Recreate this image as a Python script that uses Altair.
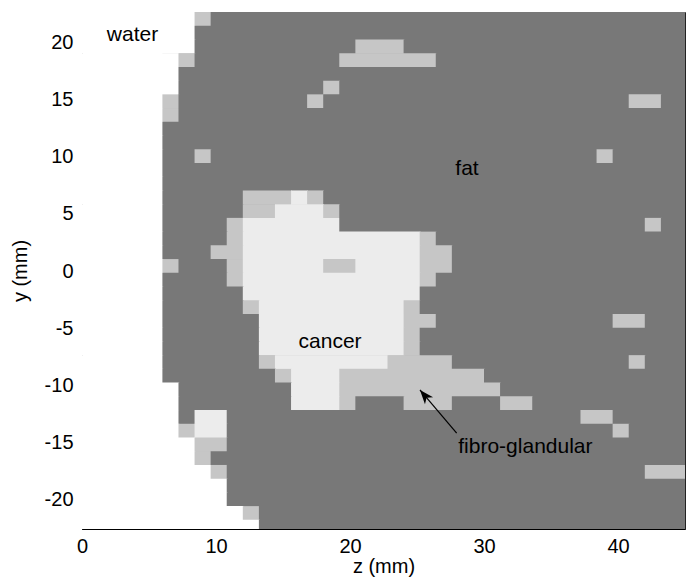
import altair as alt
import pandas as pd

# ---- grid geometry (mm) ----
CELL = 1.2          # pixel size of the tissue map, mm
OVERLAP = 0.06      # tiny overlap between neighbouring cells to hide render seams
Y_TOP = 22.65       # upper edge of the first row
Z_DOMAIN = [0, 45]
Y_DOMAIN = [-22.55, 22.65]

# ---- tissue classes ----
tissue_codes = ["W", "F", "G", "C"]
tissue_names = ["water", "fat", "fibro-glandular", "cancer"]
tissue_colors = ["#ffffff", "#787878", "#c6c6c6", "#ececec"]

# ---- tissue map, run-length encoded, top row first (38 cells per row) ----
row_runs = [
    "W7 G1 F30",
    "W7 F31",
    "W7 F10 G3 F18",
    "W6 G1 F9 G6 F16",
    "W6 F32",
    "W6 F9 G1 F22",
    "W5 G1 F8 G1 F19 G2 F2",
    "W5 G1 F32",
    "W5 F33",
    "W5 F33",
    "W5 F2 G1 F24 G1 F5",
    "W5 F33",
    "W5 F33",
    "W5 F5 G3 C1 G1 F23",
    "W5 F5 G2 C3 G1 F22",
    "W5 F4 G1 C6 F19 G1 F2",
    "W5 F4 G1 C11 G1 F16",
    "W5 F3 G2 C11 G2 F15",
    "W5 G1 F3 G1 C5 G2 C4 G2 F15",
    "W5 F4 G1 C11 G1 F16",
    "W5 F5 C11 F17",
    "W5 F5 G1 C9 G1 F17",
    "W5 F6 C9 G2 F11 G2 F3",
    "W5 F6 C9 G1 F17",
    "W5 F6 C9 G1 F17",
    "W5 F6 G1 C7 G4 F11 G1 F3",
    "W5 F7 G1 C3 G9 F13",
    "W6 F7 C3 G10 F12",
    "W6 F7 C3 G1 F3 G3 F3 G2 F10",
    "W6 F1 C2 F22 G2 F5",
    "W6 G1 C2 F24 G1 F4",
    "W7 G2 F29",
    "W7 G1 F30",
    "W8 G1 F26 G3",
    "W9 F29",
    "W9 F29",
    "W10 G1 F27",
    "W11 F27",
]

# ---- annotations ----
label_texts = ["water", "fat", "cancer", "fibro-glandular"]
label_z = [1.85, 28.73, 18.51, 28.08]
label_y = [20.1, 8.38, -6.75, -15.92]
label_align = ["left", "center", "center", "left"]
arrow_tail = (27.96, -14.17)
arrow_tip = (25.22, -10.39)

x_ticks = [0, 10, 20, 30, 40]
y_ticks = [-20, -15, -10, -5, 0, 5, 10, 15, 20]

# ---- build cell table ----
name_of = dict(zip(tissue_codes, tissue_names))
records = []
for r, row in enumerate(row_runs):
    c = 0
    for tok in row.split():
        code, n = tok[0], int(tok[1:])
        records.append({
            "z0": c * CELL, "z1": (c + n) * CELL + OVERLAP,
            "y1": Y_TOP - r * CELL, "y0": Y_TOP - (r + 1) * CELL - OVERLAP,
            "tissue": name_of[code],
        })
        c += n
cells = pd.DataFrame(records)

xscale = alt.Scale(domain=Z_DOMAIN, nice=False, zero=False)
yscale = alt.Scale(domain=Y_DOMAIN, nice=False, zero=False)
color_scale = alt.Scale(domain=tissue_names, range=tissue_colors)

FONT = "Liberation Sans"

# background of the map region (fat colour) to hide seams between rows
bg_df = pd.DataFrame({"z0": [6.0], "z1": [Z_DOMAIN[1]],
                      "y0": [Y_DOMAIN[0]], "y1": [Y_DOMAIN[1]]})
background = alt.Chart(bg_df).mark_rect(color=tissue_colors[1], clip=True).encode(
    x=alt.X("z0:Q", scale=xscale, axis=alt.Axis(
        title="z (mm)", values=x_ticks, ticks=False, grid=False, labelFlush=False,
        labelPadding=7, titlePadding=0, labelExpr="'' + datum.value")),
    x2="z1:Q",
    y=alt.Y("y1:Q", scale=yscale, axis=alt.Axis(
        title="y (mm)", values=y_ticks, ticks=False, grid=False, labelFlush=False,
        labelPadding=9, titlePadding=14, labelExpr="'' + datum.value")),
    y2="y0:Q",
)

base_map = alt.Chart(cells).mark_rect(clip=True, strokeWidth=0).encode(
    x=alt.X("z0:Q", scale=xscale),
    x2="z1:Q",
    y=alt.Y("y1:Q", scale=yscale),
    y2="y0:Q",
    color=alt.Color("tissue:N", scale=color_scale, legend=None),
)

labels = pd.DataFrame({"text": label_texts, "z": label_z, "y": label_y,
                       "align": label_align})
text_left = alt.Chart(labels[labels["align"] == "left"]).mark_text(
    align="left", baseline="alphabetic", font=FONT, fontSize=21, color="black"
).encode(x=alt.X("z:Q", scale=xscale), y=alt.Y("y:Q", scale=yscale), text="text:N")
text_center = alt.Chart(labels[labels["align"] == "center"]).mark_text(
    align="center", baseline="alphabetic", font=FONT, fontSize=21, color="black"
).encode(x=alt.X("z:Q", scale=xscale), y=alt.Y("y:Q", scale=yscale), text="text:N")

arrow_df = pd.DataFrame({"z": [arrow_tail[0]], "y": [arrow_tail[1]],
                         "z2": [arrow_tip[0]], "y2": [arrow_tip[1]]})
shaft = alt.Chart(arrow_df).mark_rule(color="black", strokeWidth=1.2).encode(
    x=alt.X("z:Q", scale=xscale), y=alt.Y("y:Q", scale=yscale),
    x2="z2:Q", y2="y2:Q")
head = alt.Chart(arrow_df).mark_point(
    shape="M0,0 L0.75,2 L0,1.45 L-0.75,2 Z", filled=True, size=200,
    angle=320, color="black", opacity=1, strokeWidth=0
).encode(x=alt.X("z2:Q", scale=xscale), y=alt.Y("y2:Q", scale=yscale))

chart = alt.layer(background, base_map, text_left, text_center, shaft, head).properties(
    width=603, height=517,
    autosize=alt.AutoSizeParams(type="none"),
    padding={"left": 82, "top": 12, "right": 6, "bottom": 50},
    background="white",
).configure_view(
    stroke="#222", strokeWidth=1, fill="white"
).configure_axis(
    labelFont=FONT, labelFontSize=20, labelColor="black",
    titleFont=FONT, titleFontSize=20, titleColor="black", titleFontWeight="normal",
    domainColor="black", domainWidth=1,
)

chart.save("out.html", embed_options={"renderer": "svg", "actions": False})
